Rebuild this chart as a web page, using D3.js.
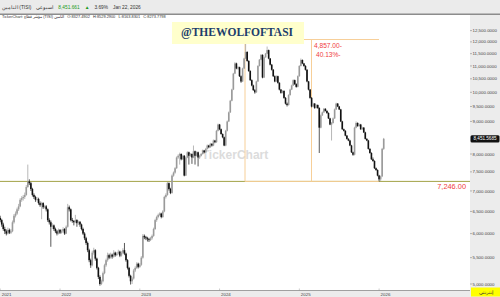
<!DOCTYPE html>
<html lang="ar">
<head>
<meta charset="UTF-8">
<script src="https://d3js.org/d3.v7.min.js"></script>
<title>TISI</title>
<style>
  body { margin: 0; background: #fff; }
</style>
</head>
<body>
<script>
// weekly candles [open, high, low, close], first week Thursday 2021-04-08
var candles2021 = [
  [6350,6400,6250,6300],[6300,6330,6150,6200],[6200,6240,6060,6100],[6100,6150,5990,6050],
  [6050,6090,5960,6000],[6000,6130,5980,6080],[6080,6110,5990,6020],[6020,6100,5990,6050],
  [6050,6290,6030,6250],[6250,6440,6220,6400],[6400,6500,6360,6450],[6450,6590,6420,6550],
  [6550,6680,6510,6620],[6620,6820,6600,6780],[6780,6870,6730,6820],[6820,6900,6760,6850],
  [6850,6960,6800,6900],[6900,7150,6880,7100],[7100,7700,7080,7240],[7240,7300,7150,7200],
  [7200,7230,7000,7050],[7050,7080,6860,6900],[6900,6940,6800,6850],[6850,6880,6730,6780],
  [6780,6850,6740,6800],[6800,6830,6660,6700],[6700,6740,6610,6650],[6650,6730,6320,6700],
  [6700,6720,6560,6600],[6600,6660,6570,6620],[6620,6650,6500,6550],[6550,6570,6260,6300],
  [6300,6340,6200,6250],[6250,6290,5720,6150],[6150,6230,6100,6180],[6180,6200,6060,6100],
  [6100,6130,6010,6050],[6050,6080,5960,6000],[6000,6110,5980,6080]
];
var candles2022 = [
  [6080,6100,5990,6020],[6020,6090,6000,6050],[6050,6140,6020,6100],[6100,6120,5970,6000],
  [6000,6180,5990,6150],[6150,6680,6130,6600],[6600,6640,6500,6550],[6550,6570,6270,6300],
  [6300,6350,6240,6280],[6280,6300,6180,6250],[6250,6420,6230,6300],[6300,6320,6150,6230],
  [6230,6290,6190,6260],[6260,6280,6150,6200],[6200,6220,6070,6100],[6100,6130,5970,6000],
  [6000,6030,5860,5900],[5900,5930,5760,5800],[5800,5830,5610,5650],[5650,5680,5410,5450],
  [5450,5480,5300,5350],[5350,5640,5330,5600],[5600,5700,5560,5650],[5650,5670,5440,5480],
  [5480,5500,5270,5300],[5300,5320,5090,5130],[5130,5160,4970,5000],[5000,5080,4980,5050],
  [5050,5230,5030,5200],[5200,5380,5180,5350],[5350,5480,5320,5450],[5450,5600,5420,5550],
  [5550,5580,5470,5500],[5500,5600,5480,5560],[5560,5580,5480,5520],[5520,5650,5500,5600],
  [5600,5620,5520,5550],[5550,5610,5530,5580],[5580,5660,5560,5620],[5620,5640,5510,5540],
  [5540,5630,5520,5600],[5600,5690,5570,5650],[5650,5800,5550,5580],[5580,5600,5420,5450],
  [5450,5470,5270,5300],[5300,5320,5120,5150],[5150,5170,4990,5050],[5050,5130,5000,5100],
  [5100,5280,5080,5250],[5250,5330,5220,5300],[5300,5410,5280,5380],[5380,5400,5290,5320]
];
var candles2023 = [
  [5320,5390,5300,5360],[5360,5530,5340,5500],[5500,5990,5480,5950],[5950,5980,5880,5920],
  [5920,5950,5860,5900],[5900,5930,5830,5880],[5880,5910,5820,5860],[5860,5930,5840,5900],
  [5900,5980,5870,5950],[5950,6130,5930,6100],[6100,6330,6080,6300],[6300,6400,6260,6370],
  [6370,6450,6340,6420],[6420,6480,6390,6450],[6450,6470,6340,6370],[6370,6530,6350,6500],
  [6500,6880,6480,6850],[6850,6940,6810,6900],[6900,7230,6880,7200],[7200,7220,7010,7050],
  [7050,7080,6920,6950],[6950,7430,6930,7400],[7400,7510,7370,7480],[7480,7630,7450,7600],
  [7600,7930,7580,7900],[7900,7990,7860,7950],[7950,8040,7700,8000],[8000,8020,7820,7850],
  [7850,7980,7830,7950],[7950,7970,7380,7400],[7400,7930,7390,7900],[7900,8080,7880,8050],
  [8050,8070,7700,7950],[7950,8030,7920,8000],[8000,8020,7720,7900],[7900,8250,7880,8080],
  [8080,8100,7700,7950],[7950,8080,7930,8050],[8050,8070,7650,7900],[7900,7980,7860,7950],
  [7950,8030,7930,8000],[8000,8130,7980,8100],[8100,8120,8020,8050],[8050,8180,8030,8150],
  [8150,8280,8130,8250],[8250,8270,8170,8200],[8200,8330,8180,8300],[8300,8320,8220,8250],
  [8250,8430,8230,8400],[8400,8420,8320,8350],[8350,8730,8330,8700],[8700,8930,8680,8900]
];
var candles2024 = [
  [8900,8920,8720,8750],[8750,8770,8580,8600],[8600,8620,8470,8500],[8500,8520,8230,8250],
  [8250,8730,8230,8700],[8700,9030,8680,9000],[9000,9330,8980,9300],[9300,9730,9280,9700],
  [9700,10130,9680,10100],[10100,10730,10080,10700],[10700,11150,10680,11100],[11100,11130,10870,10900],
  [10900,11000,10850,10950],[10950,10970,10570,10600],[10600,10630,10350,10400],[10400,10930,10380,10900],
  [10900,11330,10880,11300],[11300,12103,11280,11570],[11570,11600,11170,11200],[11200,11230,10770,10800],
  [10800,10830,10420,10450],[10450,10480,10220,10250],[10250,10280,10050,10080],[10080,10120,9950,10000],
  [10000,10430,9980,10400],[10400,11030,10380,11000],[11000,11280,10980,11250],[11250,11480,11230,11450],
  [11450,11470,10520,10550],[10550,11380,10530,11350],[11350,11530,11330,11500],[11500,11800,11480,11650],
  [11650,11670,11270,11300],[11300,11320,11020,11050],[11050,11080,10820,10850],[10850,10880,10570,10600],
  [10600,10630,10370,10400],[10400,10630,10380,10600],[10600,10620,10320,10350],[10350,10370,10070,10100],
  [10100,10120,9950,9980],[9980,10080,9960,10050],[10050,10070,9770,9800],[9800,9830,9570,9600],
  [9600,9640,9500,9550],[9550,9930,9530,9900],[9900,10130,9880,10100],[10100,10280,10080,10250],
  [10250,10480,10230,10450],[10450,10470,10270,10300],[10300,10330,10170,10200],[10200,10630,10180,10600]
];
var candles2025 = [
  [10600,11030,10580,11000],[11000,11300,10980,11240],[11240,11260,11070,11100],[11100,11120,10970,11000],
  [11000,11030,10820,10850],[10850,10870,10370,10400],[10400,10420,10070,10100],[10100,10120,9770,9800],
  [9800,9830,9470,9500],[9500,9630,9480,9600],[9600,9620,9420,9450],[9450,9580,9430,9550],
  [9550,9570,9420,9450],[9450,9470,8030,8800],[8800,9230,8780,9200],[9200,9330,9180,9300],
  [9300,9450,9280,9420],[9420,9440,9330,9350],[9350,9370,9250,9280],[9280,9300,9080,9100],
  [9100,9120,8880,8900],[8900,8980,8400,8950],[8950,9130,8930,9100],[9100,9430,9080,9400],
  [9400,9630,9380,9600],[9600,9620,9480,9500],[9500,9520,9380,9400],[9400,9420,8980,9000],
  [9000,9020,8730,8750],[8750,8770,8680,8700],[8700,8720,8530,8550],[8550,8570,8430,8450],
  [8450,8470,8380,8400],[8400,8420,8230,8250],[8250,8270,8030,8050],[8050,8070,7950,7980],
  [7980,8830,7960,8800],[8800,9000,8780,8950],[8950,8970,8830,8850],[8850,8930,8830,8900],
  [8900,8920,8730,8750],[8750,8830,8730,8800],[8800,8820,8630,8650],[8650,8670,8430,8450],
  [8450,8470,8380,8400],[8400,8420,8130,8150],[8150,8170,8010,8030],[8030,8050,7830,7850],
  [7850,7900,7780,7800],[7800,7820,7580,7600],[7600,7620,7530,7550],[7550,7570,7380,7400]
];
var candles2026 = [
  [7400,7420,7246,7300],[7300,7400,7260,7380],[7380,8180,7360,8151],[8151,8480,8120,8451.66]
];

// 8,500 sits under the last-price tag in the reference
var yTicks = [5000,5500,6000,6500,7000,7500,8000,9000,9500,10000,10500,11000,11500,12000,12500];
var yearLabels = ["2021","2022","2023","2024","2025","2026"];

var lastPrice = 8451.5685;
var supportLevel = 7246;
var peakLevel = 12103;
var dropText = "4,857.00-";
var dropPct = "40.13%-";

var data = [].concat(candles2021, candles2022, candles2023, candles2024, candles2025, candles2026)
  .map(function(d, i) {
    var dt = new Date(2021, 3, 8 + i * 7);
    return { i: i, date: dt, o: d[0], h: d[1], l: d[2], c: d[3] };
  });

var W = 500, H = 297;
var plotRight = 470, axisY = 290.5;
var sans = "'Liberation Sans', Arial, sans-serif";

var svg = d3.select("body").append("svg")
  .attr("width", W)
  .attr("height", H)
  .style("font-family", sans);

var x = d3.scaleLinear().domain([0, data.length - 1]).range([0.2, 383.7]);
var y = d3.scaleLog().domain([5000, 12500]).range([284, 30.6]);

// header
svg.append("rect").attr("x", 0).attr("y", 0).attr("width", W).attr("height", 14).attr("fill", "#ebebeb");
svg.append("line").attr("x1", 0).attr("x2", W).attr("y1", 14.2).attr("y2", 14.2)
  .attr("stroke", "#8c8c8c").attr("stroke-width", 1.4);

function row(items, yPos, size, gap) {
  var cx = 2;
  items.forEach(function(d) {
    var t = svg.append("text")
      .attr("x", cx)
      .attr("y", yPos)
      .attr("font-size", size)
      .attr("fill", d.c || "#333")
      .text(d.t);
    cx += t.node().getComputedTextLength() + gap;
  });
}

row([
  { t: "التامين (TISI)" },
  { t: "اسبوعي" },
  { t: "8,451.661", c: "#1a9a1a" },
  { t: "▲", c: "#1a9a1a" },
  { t: "3.69%" },
  { t: "Jan 22, 2026" }
], 8.6, 4.8, 5);

row([
  { t: "TickerChart: مؤشر قطاع (TISI) التامين" },
  { t: "O:8327.4902" },
  { t: "H:8529.2900" },
  { t: "L:8163.8301" },
  { t: "C:8273.7798" }
], 18.3, 3.9, 3.2);

// right axis panel and bottom strip
svg.append("rect").attr("x", plotRight).attr("y", 15).attr("width", W - plotRight).attr("height", H - 15)
  .attr("fill", "#ececec");
svg.append("rect").attr("x", 0).attr("y", axisY).attr("width", plotRight).attr("height", H - axisY)
  .attr("fill", "#ececec");
svg.append("line").attr("x1", 0).attr("x2", plotRight).attr("y1", axisY).attr("y2", axisY)
  .attr("stroke", "#8a8a8a").attr("stroke-width", 0.8);

// watermark
svg.append("text")
  .attr("x", 235).attr("y", 159)
  .attr("text-anchor", "middle")
  .attr("font-size", 12)
  .attr("font-weight", "bold")
  .attr("fill", "#dcdcdc")
  .text("TickerChart");

// y axis
var yAxis = svg.append("g");
yAxis.selectAll("line").data(yTicks).enter().append("line")
  .attr("x1", plotRight).attr("x2", plotRight + 2)
  .attr("y1", function(d) { return y(d); })
  .attr("y2", function(d) { return y(d); })
  .attr("stroke", "#777").attr("stroke-width", 0.5);
yAxis.selectAll("text").data(yTicks).enter().append("text")
  .attr("x", plotRight + 2.5)
  .attr("y", function(d) { return y(d) + 1.6; })
  .attr("font-size", 4.4)
  .attr("fill", "#444")
  .text(function(d) { return d3.format(",.4f")(d); });

// x axis: first bar of each year
var yearStarts = data.filter(function(d, i) {
  return i === 0 || d.date.getFullYear() !== data[i - 1].date.getFullYear();
});
var xAxis = svg.append("g");
xAxis.selectAll("line").data(yearStarts).enter().append("line")
  .attr("x1", function(d) { return x(d.i); })
  .attr("x2", function(d) { return x(d.i); })
  .attr("y1", axisY - 2).attr("y2", axisY)
  .attr("stroke", "#999").attr("stroke-width", 0.5);
xAxis.selectAll("text").data(yearStarts).enter().append("text")
  .attr("x", function(d) { return x(d.i) + 1.5; })
  .attr("y", 296)
  .attr("font-size", 4.4)
  .attr("fill", "#444")
  .text(function(d, k) { return yearLabels[k]; });

// support line
svg.append("line")
  .attr("x1", 0).attr("x2", plotRight)
  .attr("y1", y(supportLevel)).attr("y2", y(supportLevel))
  .attr("stroke", "#a3a347").attr("stroke-width", 1);

// measure box
var mx0 = 245, mx1 = 379, mxv = 311.5;
var measure = svg.append("g").attr("stroke", "#f7cf98").attr("stroke-width", 1).attr("fill", "none");
measure.append("line").attr("x1", mx0).attr("x2", mx1).attr("y1", y(peakLevel)).attr("y2", y(peakLevel));
measure.append("line").attr("x1", mx0).attr("x2", mx1).attr("y1", y(supportLevel)).attr("y2", y(supportLevel));
measure.append("line").attr("x1", mxv).attr("x2", mxv).attr("y1", y(peakLevel)).attr("y2", y(supportLevel));
measure.append("line").attr("x1", mx0).attr("x2", mx0).attr("y1", y(peakLevel)).attr("y2", y(supportLevel));

// candles
var candle = svg.append("g").selectAll("g").data(data).enter().append("g");
candle.append("line")
  .attr("x1", function(d) { return x(d.i); })
  .attr("x2", function(d) { return x(d.i); })
  .attr("y1", function(d) { return y(d.h); })
  .attr("y2", function(d) { return y(d.l); })
  .attr("stroke", function(d) { return d.c >= d.o ? "#9a9a9a" : "#111"; })
  .attr("stroke-width", 0.7);
candle.append("rect")
  .attr("x", function(d) { return x(d.i) - 0.8; })
  .attr("width", 1.6)
  .attr("y", function(d) { return y(Math.max(d.o, d.c)); })
  .attr("height", function(d) { return Math.max(0.6, Math.abs(y(d.o) - y(d.c))); })
  .attr("fill", function(d) { return d.c >= d.o ? "#9a9a9a" : "#111"; });

// measure labels
svg.append("text").attr("x", 314).attr("y", 47.5).attr("font-size", 6.6).attr("fill", "#f03c3c").text(dropText);
svg.append("text").attr("x", 316).attr("y", 56.5).attr("font-size", 6.6).attr("fill", "#f03c3c").text(dropPct);
svg.append("text").attr("x", 466).attr("y", 188.5).attr("text-anchor", "end")
  .attr("font-size", 7.4).attr("fill", "#f03c3c").text(d3.format(",.2f")(supportLevel));

// handle box
svg.append("rect").attr("x", 172).attr("y", 22).attr("width", 132).attr("height", 22).attr("fill", "#ffffcc");
svg.append("text").attr("x", 237).attr("y", 35.5).attr("text-anchor", "middle")
  .style("font-family", "'Liberation Serif', 'Times New Roman', serif").attr("font-weight", "bold")
  .attr("font-size", 11.5).attr("fill", "#1d3d6b").text("@THEWOLFOFTASI");

// last price tag
svg.append("rect").attr("x", 470.5).attr("y", y(lastPrice) - 3.6).attr("width", 29).attr("height", 7.2)
  .attr("rx", 1.5).attr("fill", "#111");
svg.append("text").attr("x", 485).attr("y", y(lastPrice) + 1.6).attr("text-anchor", "middle")
  .attr("font-size", 4.6).attr("fill", "#fff").text(d3.format(",.4f")(lastPrice));

// bottom-right badge
svg.append("rect").attr("x", 471).attr("y", 287.5).attr("width", 29).attr("height", 9).attr("fill", "#ffff00");
svg.append("text").attr("x", 485.5).attr("y", 294).attr("text-anchor", "middle")
  .attr("font-size", 4.6).attr("fill", "#333").text("إنترنتي");
</script>
</body>
</html>
